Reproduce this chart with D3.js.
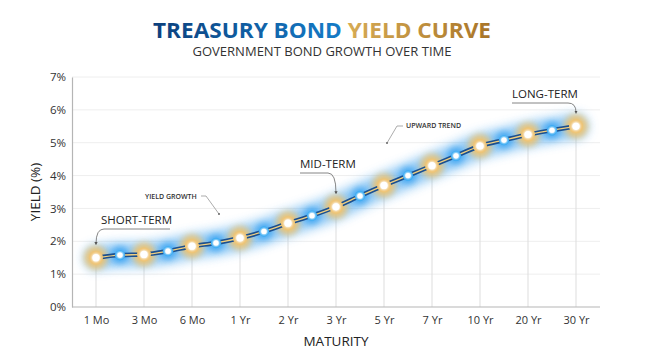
<!DOCTYPE html>
<html><head><meta charset="utf-8">
<script src="https://cdn.jsdelivr.net/npm/d3@7"></script>
<style>body{margin:0;background:#fff}svg{display:block;font-family:"Open Sans",sans-serif}</style>
</head><body><svg id="c" width="645" height="360"></svg>
<script>
const maturities = ["1 Mo","3 Mo","6 Mo","1 Yr","2 Yr","3 Yr","5 Yr","7 Yr","10 Yr","20 Yr","30 Yr"];
const yields = [1.5,1.6,1.85,2.1,2.55,3.05,3.7,4.3,4.9,5.25,5.5];
const midYields = [1.58,1.7,1.95,2.3,2.78,3.38,4.0,4.6,5.08,5.38];
const yTicks = [0,1,2,3,4,5,6,7];
const annotations = [
  {text:"SHORT-TERM", idx:0},
  {text:"MID-TERM", idx:5},
  {text:"LONG-TERM", idx:10}
];

const W=645,H=360, m={l:72,r:45,t:77,b:53};
const svg=d3.select("#c");
const defs=svg.append("defs");
const blur=(id,s)=>defs.append("filter").attr("id",id).attr("x","-50%").attr("y","-50%").attr("width","200%").attr("height","200%")
  .append("feGaussianBlur").attr("stdDeviation",s);
blur("glow",5.5); blur("halo",3.2); blur("soft",1.2);
const g1=defs.append("linearGradient").attr("id","gBlue").attr("gradientUnits","userSpaceOnUse").attr("x1",153).attr("x2",330).attr("y1",0).attr("y2",0);
g1.append("stop").attr("offset",0).attr("stop-color","#0c3f7c");
g1.append("stop").attr("offset",1).attr("stop-color","#1479c4");
const g2=defs.append("linearGradient").attr("id","gGold").attr("gradientUnits","userSpaceOnUse").attr("x1",330).attr("x2",492).attr("y1",0).attr("y2",0);
g2.append("stop").attr("offset",0).attr("stop-color","#dcb25a");
g2.append("stop").attr("offset",1).attr("stop-color","#a87428");
const arrowM=defs.append("marker").attr("id","arr").attr("viewBox","0 0 6 6").attr("refX",3).attr("refY",3)
  .attr("markerWidth",4).attr("markerHeight",4).attr("orient","auto");
arrowM.append("path").attr("d","M0,0L6,3L0,6Z").attr("fill","#555");

const x=d3.scalePoint().domain(maturities).range([m.l,W-m.r]).padding(0.5);
const y=d3.scaleLinear().domain([0,7]).range([H-m.b,m.t]);

// title
const t=svg.append("text").attr("x",322).attr("y",38).attr("text-anchor","middle")
  .attr("font-size",21).attr("font-weight",700).attr("font-family","'Open Sans',sans-serif")
  .attr("textLength",338).attr("lengthAdjust","spacingAndGlyphs");
t.append("tspan").attr("fill","url(#gBlue)").text("TREASURY BOND ");
t.append("tspan").attr("fill","url(#gGold)").text("YIELD CURVE");
svg.append("text").attr("x",322).attr("y",56).attr("text-anchor","middle").attr("font-size",12.5)
  .attr("fill","#333").attr("textLength",259).attr("lengthAdjust","spacingAndGlyphs").text("GOVERNMENT BOND GROWTH OVER TIME");

// grid
svg.append("g").selectAll("line").data(yTicks.slice(1)).join("line")
  .attr("x1",m.l).attr("x2",W-m.r).attr("y1",d=>y(d)).attr("y2",d=>y(d)).attr("stroke","#eeeeee");
svg.append("g").selectAll("line").data(maturities).join("line")
  .attr("x1",d=>x(d)).attr("x2",d=>x(d)).attr("y1",(d,i)=>y(yields[i])).attr("y2",y(0)).attr("stroke","#dddddd");

// axes
const ya=svg.append("g").attr("transform",`translate(${m.l},0)`)
  .call(d3.axisLeft(y).tickValues(yTicks).tickFormat(d=>d+"%").tickSize(0).tickPadding(6));
ya.select(".domain").attr("stroke","#b5b5b5").attr("stroke-width",1.2);
ya.selectAll("text").attr("font-size",11.5).attr("fill","#333").attr("font-family","'Open Sans',sans-serif");
const xa=svg.append("g").attr("transform",`translate(0,${y(0)})`)
  .call(d3.axisBottom(x).tickSize(0).tickPadding(9).tickSizeOuter(0));
xa.select(".domain").attr("stroke","#b5b5b5").attr("stroke-width",1.2).attr("d",`M${m.l},0H${W-m.r}`);
xa.selectAll("text").attr("font-size",11).attr("fill","#333").attr("font-family","'Open Sans',sans-serif");
svg.append("text").attr("transform",`translate(40,${(y(0)+y(7))/2}) rotate(-90)`).attr("text-anchor","middle")
  .attr("font-size",13.5).attr("fill","#222").text("YIELD (%)");
svg.append("text").attr("x",336).attr("y",346).attr("text-anchor","middle").attr("font-size",13.5).attr("fill","#222").text("MATURITY");

// points
const pts=[];
maturities.forEach((mt,i)=>{
  pts.push({x:x(mt),y:y(yields[i]),type:"gold"});
  if(i<midYields.length) pts.push({x:(x(mt)+x(maturities[i+1]))/2,y:y(midYields[i]),type:"blue"});
});
const line=d3.line().x(d=>d.x).y(d=>d.y).curve(d3.curveMonotoneX);
svg.append("path").attr("d",line(pts)).attr("fill","none").attr("stroke","#5aaef0").attr("stroke-width",24)
  .attr("stroke-linecap","round").attr("opacity",0.7).attr("filter","url(#glow)");
svg.append("g").selectAll("circle").data(pts).join("circle").attr("cx",d=>d.x).attr("cy",d=>d.y)
  .attr("r",d=>d.type==="gold"?11.5:8.5).attr("fill",d=>d.type==="gold"?"#f0c470":"#2f9ff2").attr("opacity",d=>d.type==="gold"?0.95:0.75).attr("filter","url(#halo)");
svg.append("path").attr("d",line(pts)).attr("fill","none").attr("stroke","#1b4f8f").attr("stroke-width",4.5);
svg.append("path").attr("d",line(pts)).attr("fill","none").attr("stroke","#f0cf80").attr("stroke-width",1.3);
svg.append("g").selectAll("circle").data(pts).join("circle").attr("cx",d=>d.x).attr("cy",d=>d.y)
  .attr("r",d=>d.type==="gold"?7:5.2).attr("fill",d=>d.type==="gold"?"#eec476":"#2ea6f2");
svg.append("g").selectAll("circle").data(pts).join("circle").attr("cx",d=>d.x).attr("cy",d=>d.y)
  .attr("r",d=>d.type==="gold"?4.3:3.3).attr("fill","#fff").attr("filter","url(#soft)");
svg.append("g").selectAll("circle").data(pts).join("circle").attr("cx",d=>d.x).attr("cy",d=>d.y)
  .attr("r",d=>d.type==="gold"?3.6:2.6).attr("fill","#fff");

// annotations
const annoGeom={"SHORT-TERM":{tx:101,ty:224,lx1:170,ly:229},"MID-TERM":{tx:300,ty:168,lx1:300,ly:173},"LONG-TERM":{tx:512,ty:98,lx1:512,ly:103}};
annotations.forEach(a=>{
  const px=x(maturities[a.idx]), py=y(yields[a.idx]);
  const gm=annoGeom[a.text];
  svg.append("text").attr("x",gm.tx).attr("y",gm.ty).attr("font-size",11.5).attr("fill","#222").text(a.text);
  const ex=px, ey=py-14;
  let d;
  if(gm.lx1>px) d=`M${gm.lx1},${gm.ly}H${px+8}Q${px},${gm.ly} ${ex},${ey}`;
  else d=`M${gm.lx1},${gm.ly}H${px-8}Q${px},${gm.ly} ${ex},${ey}`;
  svg.append("path").attr("d",d).attr("fill","none").attr("stroke","#666").attr("stroke-width",0.8).attr("marker-end","url(#arr)");
});
svg.append("text").attr("x",406).attr("y",128).attr("font-size",7).attr("font-weight",600).attr("fill","#333").text("UPWARD TREND");
svg.append("path").attr("d","M403,126H397L387,143").attr("fill","none").attr("stroke","#888").attr("stroke-width",0.7);
svg.append("circle").attr("cx",387).attr("cy",143).attr("r",1).attr("fill","#666");
svg.append("text").attr("x",145).attr("y",199).attr("font-size",7).attr("font-weight",600).attr("fill","#333").text("YIELD GROWTH");
svg.append("path").attr("d","M201,196H206L219,214").attr("fill","none").attr("stroke","#888").attr("stroke-width",0.7);
svg.append("circle").attr("cx",219).attr("cy",214).attr("r",1).attr("fill","#666");
</script></body></html>
